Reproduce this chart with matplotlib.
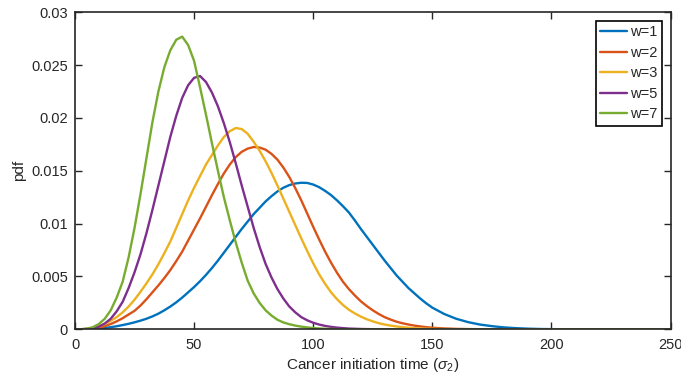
import matplotlib
matplotlib.use("Agg")
import matplotlib.pyplot as plt
import numpy as np

plt.rcParams["font.family"] = ["Liberation Sans", "DejaVu Sans"]
plt.rcParams["mathtext.fontset"] = "custom"
plt.rcParams["mathtext.it"] = "Liberation Sans:italic"
plt.rcParams["mathtext.rm"] = "Liberation Sans"

# Cancer initiation time grid (sigma_2 units)
time = [
    0, 2.5, 5, 7.5, 10, 12.5, 15, 17.5, 20, 22.5,
    25, 27.5, 30, 32.5, 35, 37.5, 40, 42.5, 45, 47.5,
    50, 52.5, 55, 57.5, 60, 62.5, 65, 67.5, 70, 72.5,
    75, 77.5, 80, 82.5, 85, 87.5, 90, 92.5, 95, 97.5,
    100, 102.5, 105, 107.5, 110, 112.5, 115, 117.5, 120, 122.5,
    125, 127.5, 130, 132.5, 135, 137.5, 140, 142.5, 145, 147.5,
    150,
    155, 160, 165, 170, 175, 180, 185, 190, 195, 200,
    205, 210, 215, 220, 225, 230, 235, 240, 245, 250,
]

# pdf values, in units of 1e-3
pdf_w1 = [
    0, 0.002, 0.01, 0.04, 0.08, 0.13, 0.2, 0.29, 0.4, 0.52,
    0.66, 0.82, 1.0, 1.22, 1.48, 1.8, 2.15, 2.55, 3.0, 3.5,
    4.0, 4.55, 5.15, 5.8, 6.5, 7.25, 8.0, 8.75, 9.5, 10.2,
    10.9, 11.5, 12.1, 12.6, 13.05, 13.4, 13.65, 13.8, 13.87, 13.85,
    13.7, 13.45, 13.1, 12.7, 12.2, 11.65, 11.05, 10.3, 9.5, 8.75,
    8.0, 7.25, 6.5, 5.8, 5.1, 4.5, 3.9, 3.4, 2.9, 2.45,
    2.05,
    1.45, 1.0, 0.68, 0.45, 0.3, 0.18, 0.11, 0.06, 0.03, 0.015,
    0.007, 0.003, 0, 0, 0, 0, 0, 0, 0, 0,
]
pdf_w2 = [
    0, 0.003, 0.02, 0.07, 0.15, 0.3, 0.5, 0.75, 1.05, 1.4,
    1.75, 2.25, 2.85, 3.5, 4.15, 4.85, 5.6, 6.45, 7.35, 8.4,
    9.45, 10.5, 11.6, 12.7, 13.75, 14.75, 15.6, 16.3, 16.8, 17.1,
    17.25, 17.2, 17.0, 16.6, 16.05, 15.3, 14.4, 13.35, 12.2, 10.95,
    9.7, 8.5, 7.35, 6.3, 5.35, 4.5, 3.8, 3.2, 2.65, 2.2,
    1.8, 1.45, 1.15, 0.92, 0.72, 0.57, 0.45, 0.35, 0.27, 0.2,
    0.15,
    0.08, 0.04, 0.02, 0.01, 0.005, 0, 0, 0, 0, 0,
    0, 0, 0, 0, 0, 0, 0, 0, 0, 0,
]
pdf_w3 = [
    0, 0.005, 0.04, 0.12, 0.28, 0.5, 0.8, 1.15, 1.6, 2.15,
    2.8, 3.55, 4.35, 5.2, 6.15, 7.2, 8.3, 9.6, 10.9, 12.2,
    13.4, 14.5, 15.6, 16.5, 17.4, 18.2, 18.75, 19.05, 18.95, 18.5,
    17.75, 16.9, 15.9, 14.8, 13.6, 12.35, 11.1, 9.85, 8.6, 7.4,
    6.25, 5.2, 4.3, 3.5, 2.85, 2.3, 1.85, 1.5, 1.2, 0.95,
    0.75, 0.58, 0.45, 0.35, 0.27, 0.2, 0.15, 0.11, 0.08, 0.06,
    0.04,
    0.02, 0.01, 0.005, 0, 0, 0, 0, 0, 0, 0,
    0, 0, 0, 0, 0, 0, 0, 0, 0, 0,
]
pdf_w5 = [
    0, 0.005, 0.03, 0.1, 0.25, 0.55, 1.0, 1.7, 2.6, 3.9,
    5.4, 7.1, 9.1, 11.3, 13.6, 15.9, 18.2, 20.2, 21.9, 23.1,
    23.8, 23.97, 23.4, 22.4, 21.1, 19.5, 17.7, 15.7, 13.6, 11.6,
    9.6, 7.8, 6.2, 4.9, 3.8, 2.9, 2.15, 1.6, 1.15, 0.85,
    0.62, 0.45, 0.32, 0.23, 0.16, 0.11, 0.07, 0.05, 0.03, 0.02,
    0.01, 0.005, 0, 0, 0, 0, 0, 0, 0, 0,
    0,
    0, 0, 0, 0, 0, 0, 0, 0, 0, 0,
    0, 0, 0, 0, 0, 0, 0, 0, 0, 0,
]
pdf_w7 = [
    0, 0.01, 0.06, 0.2, 0.5, 1.0, 1.8, 3.0, 4.5, 6.8,
    9.6, 12.8, 16.2, 19.6, 22.5, 24.8, 26.4, 27.4, 27.7, 26.9,
    25.4, 22.9, 20.3, 17.6, 15.0, 12.5, 10.3, 8.2, 6.3, 4.6,
    3.4, 2.5, 1.8, 1.3, 0.9, 0.65, 0.48, 0.35, 0.25, 0.18,
    0.12, 0.08, 0.05, 0.03, 0.02, 0.01, 0.005, 0, 0, 0,
    0, 0, 0, 0, 0, 0, 0, 0, 0, 0,
    0,
    0, 0, 0, 0, 0, 0, 0, 0, 0, 0,
    0, 0, 0, 0, 0, 0, 0, 0, 0, 0,
]

series_labels = ["w=1", "w=2", "w=3", "w=5", "w=7"]
series_values = [pdf_w1, pdf_w2, pdf_w3, pdf_w5, pdf_w7]
series_colors = ["#0072BD", "#D95319", "#EDB120", "#7E2F8E", "#77AC30"]

x_ticks = [0, 50, 100, 150, 200, 250]
y_ticks = [0, 0.005, 0.01, 0.015, 0.02, 0.025, 0.03]
y_tick_labels = ["0", "0.005", "0.01", "0.015", "0.02", "0.025", "0.03"]

W, H = 681, 379
fig = plt.figure(figsize=(W / 100, H / 100), dpi=100)
ax = fig.add_axes([75 / W, 1 - 329.3 / H, (670.5 - 75) / W, (329.3 - 12.3) / H])

t = np.array(time)
for label, vals, color in zip(series_labels, series_values, series_colors):
    ax.plot(t, np.array(vals) * 1e-3, color=color, lw=1.7, label=label,
            solid_joinstyle="round", solid_capstyle="round")

axis_color = "#262626"
ax.set_xlim(0, 250)
ax.set_ylim(0, 0.03)
ax.set_xticks(x_ticks)
ax.set_xticklabels([str(v) for v in x_ticks])
ax.set_yticks(y_ticks)
ax.set_yticklabels(y_tick_labels)
ax.tick_params(direction="in", length=5, width=1.0, colors=axis_color,
               labelsize=10.5, top=True, right=True)
ax.tick_params(axis="x", pad=6)
ax.tick_params(axis="y", pad=5)
for side in ax.spines.values():
    side.set_color(axis_color)
    side.set_linewidth(1.2)

ax.set_xlabel(r"Cancer initiation time ($\sigma_2$)", fontsize=11,
              color=axis_color, labelpad=3)
ax.set_ylabel("pdf", fontsize=11, color=axis_color, labelpad=4)

leg = ax.legend(loc="upper right", bbox_to_anchor=(661.7 / W, 1 - 20.7 / H),
                bbox_transform=fig.transFigure, borderaxespad=0,
                fontsize=10.5, handlelength=1.85, handletextpad=0.2,
                borderpad=0.3, labelspacing=0.45, fancybox=False,
                framealpha=1, edgecolor="black")
leg.get_frame().set_linewidth(1.2)
for txt in leg.get_texts():
    txt.set_color(axis_color)

fig.savefig("out.png", dpi=100)
